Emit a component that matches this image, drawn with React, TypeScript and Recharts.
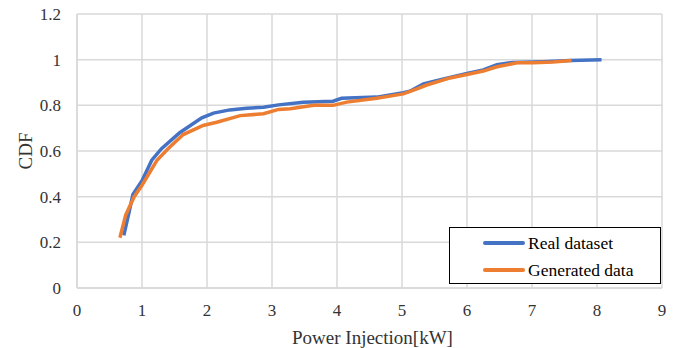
import React from "react";
import { LineChart, Line, XAxis, YAxis, CartesianGrid, Label } from "recharts";

const realX = [0.72, 0.8, 0.86, 1.0, 1.15, 1.3, 1.58, 1.92, 2.1, 2.35, 2.61, 2.87, 3.1, 3.48, 3.94, 4.07, 4.61, 5.02, 5.12, 5.33, 5.64, 6.0, 6.25, 6.46, 6.71, 7.17, 7.58, 8.07];
const realY = [0.23, 0.33, 0.41, 0.47, 0.56, 0.61, 0.68, 0.745, 0.766, 0.78, 0.787, 0.792, 0.802, 0.814, 0.818, 0.831, 0.836, 0.855, 0.862, 0.894, 0.916, 0.94, 0.955, 0.978, 0.988, 0.991, 0.996, 1.0];
const genX = [0.66, 0.75, 0.88, 1.0, 1.23, 1.4, 1.635, 1.94, 2.15, 2.51, 2.87, 3.1, 3.28, 3.64, 3.94, 4.15, 4.61, 5.02, 5.23, 5.38, 5.74, 6.0, 6.25, 6.46, 6.77, 7.02, 7.32, 7.61];
const genY = [0.22, 0.32, 0.4, 0.45, 0.559, 0.61, 0.672, 0.712, 0.726, 0.755, 0.763, 0.782, 0.785, 0.8, 0.8, 0.814, 0.831, 0.85, 0.872, 0.889, 0.92, 0.935, 0.95, 0.969, 0.986, 0.986, 0.99, 0.996];

const xTicks = [0, 1, 2, 3, 4, 5, 6, 7, 8, 9];
const yTicks = [0, 0.2, 0.4, 0.6, 0.8, 1, 1.2];
const seriesNames = ["Real dataset", "Generated data"];
const seriesColors = ["#4472C4", "#ED7D31"];

const realData = realX.map((x, i) => ({ x, y: realY[i] }));
const genData = genX.map((x, i) => ({ x, y: genY[i] }));

const FONT = '"Liberation Serif", "Times New Roman", serif';
const TEXT = "#333333";
const GRID = "#d9d9d9";

const LegendBox = () => (
  <div
    style={{
      position: "absolute",
      left: 449,
      top: 227,
      boxSizing: "border-box",
      width: 212,
      height: 57,
      border: "1.5px solid #000",
      background: "#fff",
      fontFamily: FONT,
      fontSize: 17.5,
      color: "#000",
    }}
  >
    {seriesNames.map((n, i) => (
      <div
        key={n}
        style={{
          position: "absolute",
          left: 33,
          top: 4 + i * 27,
          height: 22,
          display: "flex",
          alignItems: "center",
          whiteSpace: "nowrap",
        }}
      >
        <span
          style={{
            display: "inline-block",
            width: 42,
            height: 4,
            borderRadius: 2,
            background: seriesColors[i],
            marginRight: 3,
          }}
        />
        <span>{n}</span>
      </div>
    ))}
  </div>
);

const tickStyle = { fill: TEXT, fontFamily: FONT, fontSize: 17, style: { fontFamily: FONT } };

export default function App() {
  return (
    <div style={{ position: "absolute", left: 0, top: 0, width: 680, height: 348, background: "#fff", fontFamily: FONT }}>
      <LineChart width={680} height={348} margin={{ top: 14, right: 18, left: 0, bottom: 0 }} style={{ fontFamily: FONT }}>
        <CartesianGrid stroke={GRID} strokeWidth={1.5} horizontal vertical />
        <XAxis
          type="number"
          dataKey="x"
          domain={[0, 9]}
          ticks={xTicks}
          allowDataOverflow
          height={60}
          tickLine={false}
          axisLine={{ stroke: GRID, strokeWidth: 1.5 }}
          tickMargin={10}
          tick={tickStyle}
        >
          <Label
            content={(props: any) => {
              const vb = props.viewBox || { x: 77, width: 585 };
              return (
                <text
                  x={vb.x + vb.width / 2 + 3}
                  y={337}
                  textAnchor="middle"
                  dominantBaseline="central"
                  fill={TEXT}
                  style={{ fontFamily: FONT, fontSize: 19 }}
                >
                  Power Injection[kW]
                </text>
              );
            }}
          />
        </XAxis>
        <YAxis
          type="number"
          domain={[0, 1.2]}
          ticks={yTicks}
          width={77}
          tickLine={false}
          axisLine={{ stroke: GRID, strokeWidth: 1.5 }}
          tickMargin={10}
          tick={tickStyle}
        >
          <Label
            content={(props: any) => {
              const vb = props.viewBox || { y: 14, height: 274 };
              const cy = vb.y + vb.height / 2;
              return (
                <text
                  x={25}
                  y={cy}
                  transform={`rotate(-90 25 ${cy})`}
                  textAnchor="middle"
                  dominantBaseline="central"
                  fill={TEXT}
                  style={{ fontFamily: FONT, fontSize: 19 }}
                >
                  CDF
                </text>
              );
            }}
          />
        </YAxis>
        <Line
          data={realData}
          dataKey="y"
          name={seriesNames[0]}
          type="linear"
          stroke={seriesColors[0]}
          strokeWidth={3.5}
          dot={false}
          activeDot={false}
          isAnimationActive={false}
        />
        <Line
          data={genData}
          dataKey="y"
          name={seriesNames[1]}
          type="linear"
          stroke={seriesColors[1]}
          strokeWidth={3.5}
          dot={false}
          activeDot={false}
          isAnimationActive={false}
        />
      </LineChart>
      <LegendBox />
    </div>
  );
}
